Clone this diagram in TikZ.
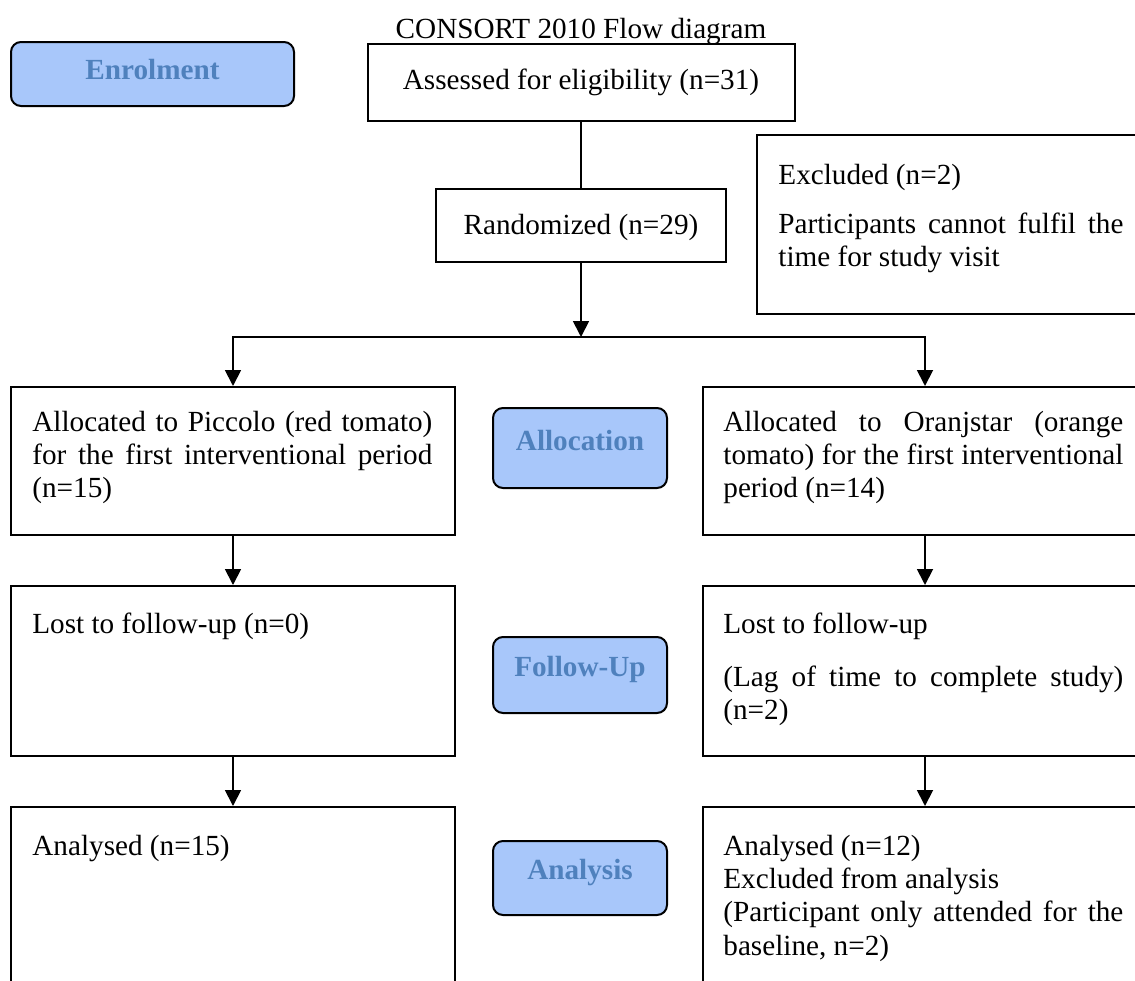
\documentclass[tikz,border=0pt]{standalone}
\usepackage{fontspec}
\setmainfont{Liberation Serif}
\usetikzlibrary{arrows.meta}
\definecolor{stagefill}{RGB}{168,199,250}
\definecolor{stagetext}{RGB}{79,129,189}
\begin{document}
\begin{tikzpicture}[x=0.5pt,y=-0.5pt,
  font=\fontsize{14.6}{16.7}\selectfont,
  box/.style={draw=black, line width=1pt, inner sep=0pt},
  stage/.style={draw=black, line width=1pt, fill=stagefill, rounded corners=5pt,
    text=stagetext, font=\fontsize{14.6}{16.7}\selectfont\bfseries, inner sep=0pt,
    text height=0.69em},
  txt/.style={inner sep=0pt, anchor=base west, text width=200pt, align=justify},
  arr/.style={line width=0.9pt, -{Triangle[width=8pt,length=8pt]}},
  ln/.style={line width=0.9pt}]
\useasboundingbox (0,0) rectangle (1135,980);
\clip (0,0) rectangle (1135,980);

% title
\node[anchor=base, inner sep=0pt] (title) at (581,38) {CONSORT 2010 Flow diagram};

% stage labels
\node[stage, minimum width=141.5pt, minimum height=32pt, text depth=0.14em] (sEnrol) at (152.5,74) {Enrolment};
\node[stage, minimum width=87pt, minimum height=40pt, text depth=0.41em] (sAlloc) at (580,448) {Allocation};
\node[stage, minimum width=87pt, minimum height=38pt, text depth=0.55em] (sFollow) at (580,675) {Follow-Up};
\node[stage, minimum width=87pt, minimum height=37pt, text depth=0.55em] (sAnalys) at (580,878) {Analysis};

% main boxes
\node[box, minimum width=213.5pt, minimum height=38.5pt, text height=0.88em, text depth=0.18em] (assess) at (581,82.5) {Assessed for eligibility (n=31)};
\node[box, minimum width=145pt, minimum height=36.5pt, text height=1.05em, text depth=0.18em] (random) at (581,225.5) {Randomized (n=29)};
\node[box, minimum width=201.5pt, minimum height=89.5pt] (excl) at (958.5,224.5) {};
\node[box, minimum width=222pt, minimum height=74pt] (allocL) at (233,461) {};
\node[box, minimum width=222pt, minimum height=74pt] (allocR) at (925,461) {};
\node[box, minimum width=222pt, minimum height=85pt] (followL) at (233,671) {};
\node[box, minimum width=222pt, minimum height=85pt] (followR) at (925,671) {};
\node[box, minimum width=222pt, minimum height=96.5pt] (analysL) at (233,903.5) {};
\node[box, minimum width=222pt, minimum height=96.5pt] (analysR) at (925,903.5) {};

% box texts
\node[txt, text width=172.5pt] (tExcl) at (778,184) {Excluded (n=2)\par\vspace{8pt}Participants cannot fulfil the\linebreak time for study visit};
\node[txt] (tAllocL) at (32,431) {Allocated to Piccolo (red tomato)\linebreak for the first interventional period\linebreak (n=15)};
\node[txt] (tAllocR) at (723,431) {Allocated to Oranjstar (orange\linebreak tomato) for the first interventional\linebreak period (n=14)};
\node[txt] (tFollowL) at (32,633) {Lost to follow-up (n=0)};
\node[txt] (tFollowR) at (723,633) {Lost to follow-up\par\vspace{9.8pt}(Lag of time to complete study)\linebreak (n=2)};
\node[txt] (tAnalysL) at (32,855) {Analysed (n=15)};
\node[txt] (tAnalysR) at (723,855) {Analysed (n=12)\par Excluded from analysis\par (Participant only attended for the\linebreak baseline, n=2)};

% connectors
\coordinate (split) at (581,337);
\draw[ln] (assess.south) -- (random.north);
\draw[arr] (random.south) -- (split);
\draw[arr] (split) -| (allocL.north);
\draw[arr] (split) -| (allocR.north);
\draw[arr] (allocL.south) -- (followL.north);
\draw[arr] (allocR.south) -- (followR.north);
\draw[arr] (followL.south) -- (analysL.north);
\draw[arr] (followR.south) -- (analysR.north);
\end{tikzpicture}
\end{document}
